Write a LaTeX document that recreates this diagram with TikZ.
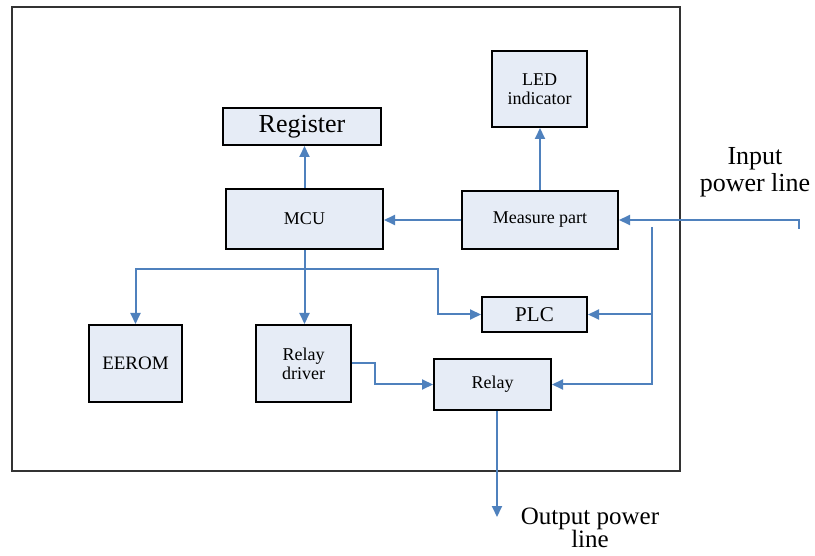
\documentclass[tikz,border=0pt]{standalone}
\usepackage{fontspec}
\setmainfont{Liberation Serif}
\usepackage{xcolor}
\usetikzlibrary{arrows.meta, positioning, calc}

\definecolor{wireblue}{RGB}{79,129,189}
\definecolor{boxfill}{RGB}{230,236,246}

\begin{document}
\begin{tikzpicture}[
    x=1pt, y=-1pt,
    every node/.style={font=\rmfamily, align=center, text=black},
    arr/.style={-{Triangle[length=11pt,width=10pt]}, line width=2pt, draw=wireblue},
    frame/.style={
      rectangle, draw=black!80, line width=1.8pt, fill=white,
      minimum width=668pt, minimum height=464pt, inner sep=0pt
    },
    block/.style={
      rectangle, draw=black, line width=2pt, fill=boxfill,
      inner sep=0pt, font=\fontsize{18}{19}\selectfont
    },
    bigtxt/.style={font=\fontsize{26}{26}\selectfont}
  ]

    \useasboundingbox (0,0) rectangle (815,556);

    \node[frame] (board) at (346,239) {};

    % Top row
    \node[block, minimum width=95pt, minimum height=76pt] (led) at (539.5,89)
      {LED\\indicator};
    \node[block, minimum width=158pt, minimum height=37pt,
          font=\fontsize{26}{26}\selectfont] (reg) at (302,126.5) {Register};

    \node[block, minimum width=157pt, minimum height=60pt] (mcu) at (304.5,219) {MCU};
    \node[block, minimum width=156pt, minimum height=58pt] (meas) at (540,220) {Measure part};

    % Lower row
    \node[block, minimum width=93pt, minimum height=77pt,
          font=\fontsize{19}{19}\selectfont] (eerom) at (135.5,363.5) {EEROM};
    \node[block, minimum width=95pt, minimum height=77pt] (rdrv) at (303.5,363.5)
      {Relay\\driver};
    \node[block, minimum width=105pt, minimum height=35pt,
          font=\fontsize{21}{21}\selectfont] (plc) at (534.5,314.5) {PLC};
    \node[block, minimum width=117pt, minimum height=51pt] (relay) at (492.5,384.5) {Relay};

    % Outside labels
    \node[bigtxt] (inlbl) at (755,172) {Input\\[1pt]power line};
    \node[bigtxt, font=\fontsize{25}{22}\selectfont, inner sep=0pt] (outlbl) at (590,528)
      {Output power\\line};

    \coordinate (tap) at (304,269);
    \coordinate (bend) at (438,269);
    \coordinate (inp) at (799,229);
    \coordinate (feed) at (652,227);
    \coordinate (out) at (497,517);

    \draw[arr] (mcu.north) -- (mcu.north |- reg.south);
    \draw[arr] (meas.north) -- (meas.north |- led.south);
    \draw[arr] (meas.west) -- (meas.west -| mcu.east);
    \draw[arr] (mcu.south) -- (mcu.south |- rdrv.north);

    \draw[arr] (tap) -| (eerom.north);
    \draw[arr] (tap) -- (bend) |- (plc.west);
    \draw[arr] (rdrv.east) -- ++(23,0) |- (relay.west);

    \draw[arr] (inp) |- (meas.east);
    \draw[arr] (feed) |- (relay.east);
    \draw[arr] (feed |- plc.east) -- (plc.east);

    \draw[arr] (out |- relay.south) -- (out);

  \end{tikzpicture}
\end{document}
